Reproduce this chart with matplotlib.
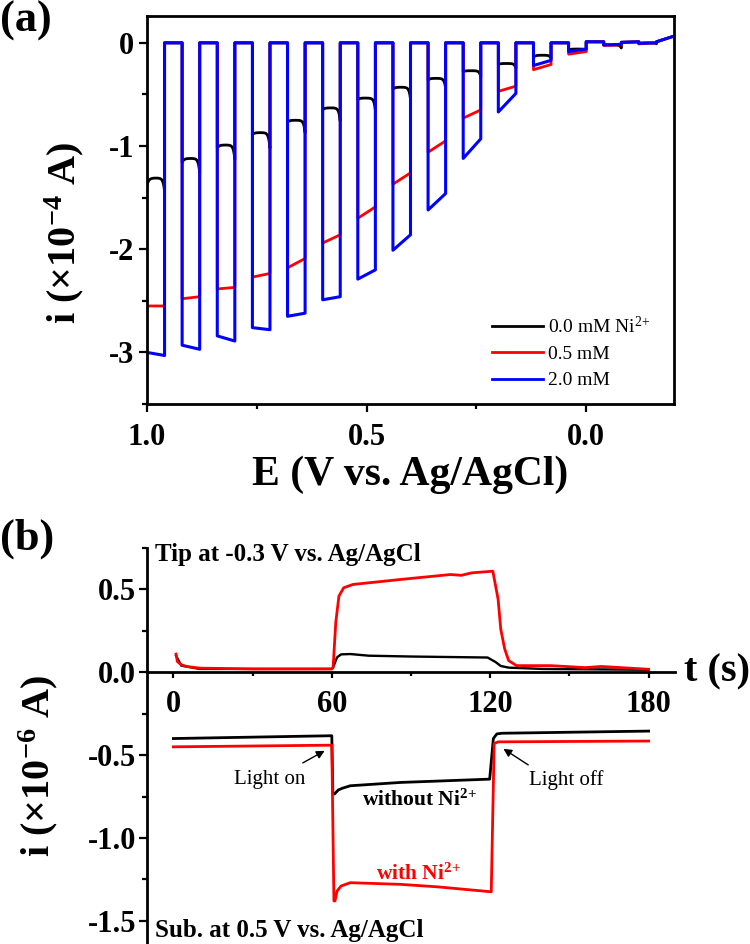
import numpy as np
import matplotlib
matplotlib.use('Agg')
import matplotlib.pyplot as plt
from matplotlib.ticker import MultipleLocator, FormatStrFormatter

plt.rcParams['font.family'] = ['Liberation Serif', 'DejaVu Serif']
plt.rcParams['mathtext.fontset'] = 'custom'
plt.rcParams['mathtext.rm'] = 'Liberation Serif'
plt.rcParams['mathtext.bf'] = 'Liberation Serif:bold'
plt.rcParams['mathtext.it'] = 'Liberation Serif:italic'
plt.rcParams['axes.unicode_minus'] = False

# ---- panel (a): chopped-light LSV, 15 light windows of 0.04 V each period 0.08 V
E_FIRST = 1.0
PERIOD = 0.08
HALF = 0.04

blue_start = [-3.00, -2.93, -2.84, -2.76, -2.65, -2.49, -2.29, -2.01, -1.62, -1.12,
              -0.67, -0.22, -0.085, -0.02, -0.005]
blue_end = [-3.03, -2.97, -2.89, -2.78, -2.62, -2.46, -2.20, -1.86, -1.46, -0.93,
            -0.49, -0.17, -0.06, -0.015, 0.0]
red_start = [-2.55, -2.48, -2.385, -2.27, -2.18, -1.94, -1.70, -1.37, -1.06, -0.73,
             -0.47, -0.26, -0.11, -0.025, -0.01]
red_end = [-2.55, -2.46, -2.37, -2.235, -2.09, -1.86, -1.59, -1.26, -0.95, -0.65,
           -0.42, -0.21, -0.085, -0.02, 0.0]
black_start = [-1.38, -1.16, -1.02, -0.89, -0.77, -0.65, -0.55, -0.45, -0.36, -0.28,
               -0.21, -0.14, -0.07, -0.02, -0.01]
black_end = [-1.31, -1.12, -0.99, -0.87, -0.75, -0.63, -0.535, -0.43, -0.344, -0.27,
             -0.20, -0.12, -0.06, -0.02, 0.0]
black_dip = [-1.44, -1.26, -1.13, -1.02, -0.87, -0.76, -0.65, -0.545, -0.44, -0.33,
             -0.245, -0.15, -0.075, -0.05, -0.01]
dark_start = [0.0, 0.0, 0.0, 0.0, 0.0, 0.0, 0.0, 0.0, 0.0, 0.0, 0.0, 0.0, 0.01, 0.005, 0.01]
dark_end = [0.0, 0.0, 0.0, 0.0, 0.0, 0.0, 0.0, 0.0, 0.0, 0.0, 0.0, 0.0, 0.01, 0.01, 0.065]

# ---- panel (b): transients
tip_red_t = [1, 1.5, 3, 5, 10, 30, 60, 60.5, 61.5, 62.7, 64.5, 68, 86, 105, 109, 113,
             121, 123, 124, 125.5, 127, 130, 143, 156, 162, 180]
tip_red_i = [0.11, 0.065, 0.045, 0.035, 0.025, 0.02, 0.02, 0.03, 0.30, 0.46, 0.51, 0.53,
             0.56, 0.59, 0.585, 0.60, 0.61, 0.44, 0.26, 0.14, 0.07, 0.04, 0.04, 0.028,
             0.035, 0.018]
tip_black_t = [1, 3, 10, 60, 60.5, 62, 63.5, 67, 74, 90, 119, 122, 124, 127, 140, 180]
tip_black_i = [0.10, 0.04, 0.02, 0.02, 0.03, 0.09, 0.108, 0.11, 0.10, 0.095, 0.089,
               0.062, 0.038, 0.028, 0.02, 0.015]
sub_black_t = [0, 60, 60.4, 61, 62.5, 64, 67, 86, 119.8, 121.2, 122.5, 124.5, 180]
sub_black_i = [-0.40, -0.383, -0.73, -0.735, -0.71, -0.70, -0.685, -0.665, -0.645,
               -0.40, -0.372, -0.368, -0.355]
sub_red_t = [0, 60, 60.8, 61.2, 62, 63.5, 67, 86, 100, 120.4, 121.5, 123, 180]
sub_red_i = [-0.45, -0.44, -1.38, -1.38, -1.32, -1.29, -1.27, -1.28, -1.295, -1.325,
             -0.43, -0.42, -0.415]


def chopped(starts, ends, dips=None):
    E, I = [], []
    for k in range(len(starts)):
        e0 = E_FIRST - PERIOD * k
        e1 = e0 - HALF
        e2 = e1 - HALF
        if dips is None:
            E += [e0, e1]
            I += [starts[k], ends[k]]
        else:
            s = np.linspace(0, 1, 30)
            v = (ends[k] + (starts[k] - ends[k]) * np.exp(-s / 0.1)
                 + (dips[k] - ends[k]) * np.exp(-(1 - s) / 0.08))
            E += list(e0 - s * HALF)
            I += list(v)
        E += [e1, e2]
        I += [dark_start[k], dark_end[k]]
    return np.array(E), np.array(I)


fig = plt.figure(figsize=(7.5, 9.44), dpi=100)
W, H = 750.0, 944.0

# ---------------- (a)
ax = fig.add_axes([147 / W, 1 - 404 / H, 527 / W, 388 / H])
Eb, Ib = chopped(black_start, black_end, black_dip)
Er, Ir = chopped(red_start, red_end)
Eu, Iu = chopped(blue_start, blue_end)
ax.plot(Eb, Ib, color='black', lw=2, label='0.0 mM Ni$^{\\mathrm{2{+}}}$')
ax.plot(Er, Ir, color='#ff0000', lw=2, label='0.5 mM')
ax.plot(Eu, Iu, color='#0000ff', lw=2.2, label='2.0 mM')
ax.set_xlim(1.0, -0.2)
ax.set_ylim(-3.5, 0.26)
ax.xaxis.set_major_locator(MultipleLocator(0.5))
ax.xaxis.set_minor_locator(MultipleLocator(0.25))
ax.xaxis.set_major_formatter(FormatStrFormatter('%.1f'))
ax.yaxis.set_major_locator(MultipleLocator(1))
ax.yaxis.set_minor_locator(MultipleLocator(0.5))
ax.yaxis.set_major_formatter(FormatStrFormatter('%d'))
for sp in ax.spines.values():
    sp.set_linewidth(2)
ax.tick_params(which='both', direction='out', width=1.6, top=False, right=False,
               labelsize=22)
ax.tick_params(which='major', length=6)
ax.tick_params(which='minor', length=3.6)
ax.tick_params(axis='y', pad=3)
ax.tick_params(axis='x', pad=8)
for lab in ax.get_xticklabels() + ax.get_yticklabels():
    lab.set_fontweight('bold')
ax.set_xlabel('E (V vs. Ag/AgCl)', fontsize=30, fontweight='bold', labelpad=2)
fig.text(64 / W, 1 - 233 / H, 'i (×10$^{\\mathbf{-4}}$ A)', rotation=90, ha='center',
         va='center', fontsize=29, fontweight='bold')
leg = ax.legend(loc='upper left', bbox_to_anchor=(0.655, 0.228), frameon=False,
                fontsize=14, handlelength=2.6, handletextpad=0.25, labelspacing=0.45,
                borderpad=0, borderaxespad=0)
for ln in leg.get_lines():
    ln.set_linewidth(2)
fig.text(0.0, 1 - 21 / H, '(a)', ha='left', va='center', fontsize=32, fontweight='bold')

# ---------------- (b)
bx = fig.add_axes([147 / W, 0, 528 / W, 396 / H])
bx.plot(tip_black_t, tip_black_i, color='black', lw=1.7)
bx.plot(tip_red_t, tip_red_i, color='#ff0000', lw=2)
bx.plot(sub_black_t, sub_black_i, color='black', lw=2)
bx.plot(sub_red_t, sub_red_i, color='#ff0000', lw=2)
bx.set_xlim(-10, 190)
bx.set_ylim(-1.64, 0.75)
bx.spines['top'].set_visible(False)
bx.spines['right'].set_visible(False)
bx.spines['bottom'].set_position(('data', 0))
bx.spines['bottom'].set_linewidth(2)
bx.spines['left'].set_linewidth(2)
bx.xaxis.set_major_locator(MultipleLocator(60))
bx.xaxis.set_minor_locator(MultipleLocator(30))
bx.yaxis.set_major_locator(MultipleLocator(0.5))
bx.yaxis.set_minor_locator(MultipleLocator(0.25))
bx.yaxis.set_major_formatter(FormatStrFormatter('%.1f'))
bx.tick_params(which='both', direction='out', width=1.6, labelsize=22)
bx.tick_params(axis='y', which='major', length=6, pad=2)
bx.tick_params(axis='y', which='minor', length=3.6)
bx.tick_params(axis='x', which='major', length=4, pad=9)
bx.tick_params(axis='x', which='minor', length=3)
for lab in bx.get_xticklabels() + bx.get_yticklabels():
    lab.set_fontweight('bold')
bx.text(193.3, 0, 't (s)', ha='left', va='center', fontsize=29, fontweight='bold',
        clip_on=False)
fig.text(38 / W, 1 - 766 / H, 'i (×10$^{\\mathbf{-6}}$ A)', rotation=90, ha='center',
         va='center', fontsize=29, fontweight='bold')
fig.text(0.0, 1 - 539 / H, '(b)', ha='left', va='center', fontsize=32, fontweight='bold')

bx.text(-6.8, 0.71, 'Tip at -0.3 V vs. Ag/AgCl', ha='left', va='center', fontsize=18,
        fontweight='bold')
bx.text(-6.8, -1.556, 'Sub. at 0.5 V vs. Ag/AgCl', ha='left', va='center', fontsize=18,
        fontweight='bold')
bx.text(93.2, -0.77, 'without Ni$^{\\mathbf{2{+}}}$', ha='center', va='center',
        fontsize=15.5, fontweight='bold', color='black')
bx.text(93, -1.22, 'with Ni$^{\\mathbf{2{+}}}$', ha='center', va='center', fontsize=15.5,
        fontweight='bold', color='#ff0000')
bx.text(36.5, -0.65, 'Light on', ha='center', va='center', fontsize=15)
bx.text(148.7, -0.65, 'Light off', ha='center', va='center', fontsize=15)
arrow = dict(arrowstyle='-|>', color='black', lw=1, mutation_scale=12,
             shrinkA=0, shrinkB=0)
bx.annotate('', xy=(57.3, -0.474), xytext=(49.0, -0.547), arrowprops=arrow)
bx.annotate('', xy=(125.0, -0.462), xytext=(134.4, -0.559), arrowprops=arrow)

fig.savefig('out.png', dpi=100)
